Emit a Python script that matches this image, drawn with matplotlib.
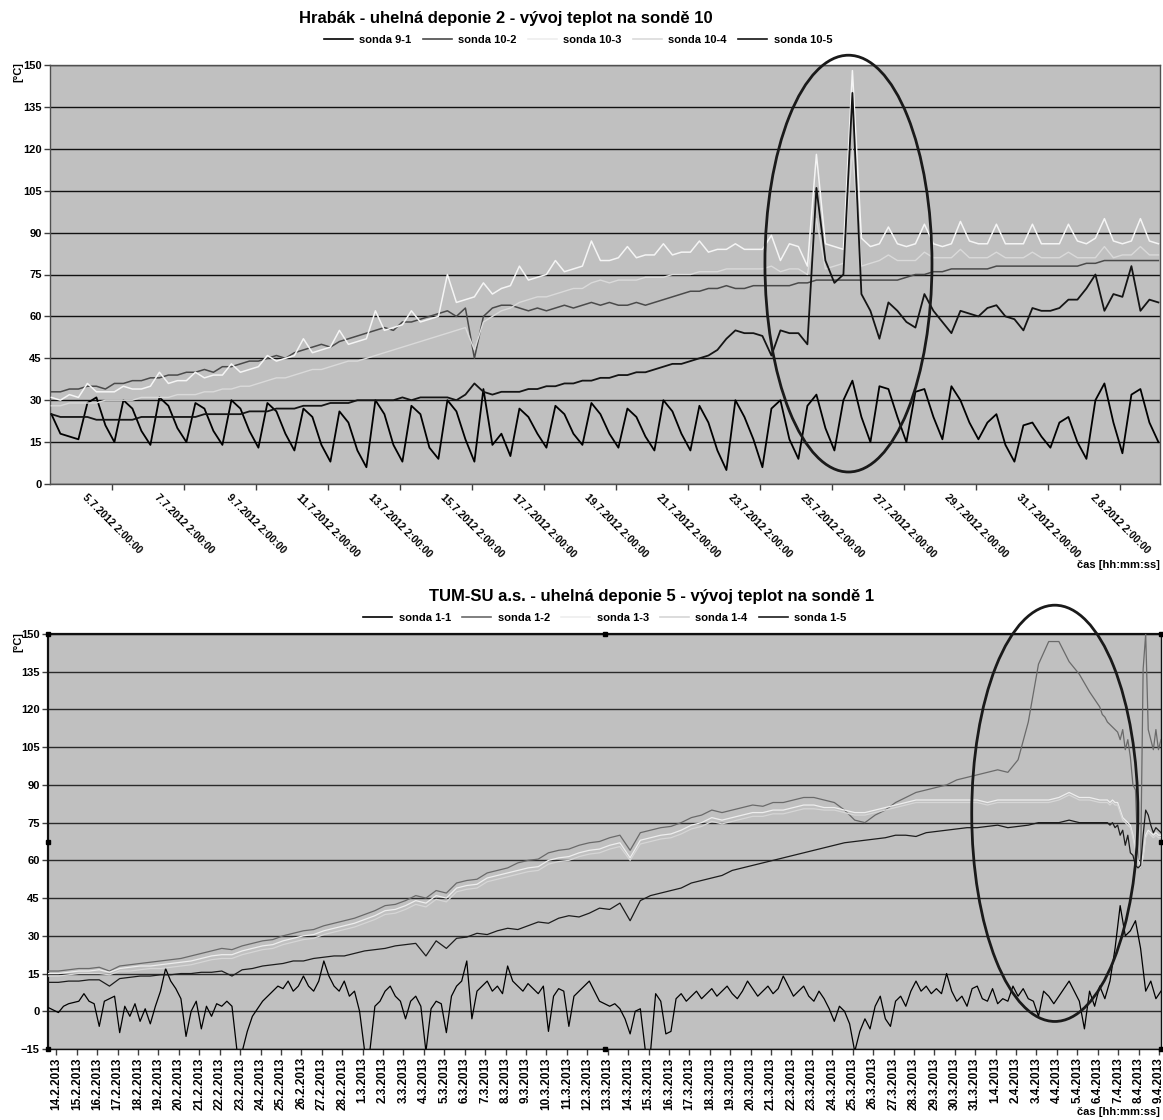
import numpy as np
import matplotlib
matplotlib.use("Agg")
import matplotlib.pyplot as plt
from matplotlib.patches import Ellipse
from matplotlib.lines import Line2D

plt.rcParams['font.family'] = ['Liberation Sans', 'DejaVu Sans']

# ---------------- data: top chart (Hrabak) ----------------
# time axis in days since 1.7.2012 00:00, 4 samples per day
top_t_start, top_t_end = 2.4, 33.15
top_ticklabels = ['5.7.2012 2:00:00', '7.7.2012 2:00:00', '9.7.2012 2:00:00', '11.7.2012 2:00:00',
                  '13.7.2012 2:00:00', '15.7.2012 2:00:00', '17.7.2012 2:00:00', '19.7.2012 2:00:00',
                  '21.7.2012 2:00:00', '23.7.2012 2:00:00', '25.7.2012 2:00:00', '27.7.2012 2:00:00',
                  '29.7.2012 2:00:00', '31.7.2012 2:00:00', '2.8.2012 2:00:00']
top_first_tick = 4.0833   # 5.7.2012 2:00
top_tick_step = 2.0

sonda_9_1 = [25,18,17,16, 29,31,21,15, 30,27,19,14, 31,28,20,15, 29,27,19,14, 30,27,19,13,
             29,26,18,12, 27,24,14,8, 26,22,12,6, 30,25,14,8, 28,25,13,9, 30,26,16,8,
             34,14,18,10, 27,24,18,13, 28,25,18,14, 29,25,18,13, 27,24,17,12, 30,26,18,12,
             28,22,12,5, 30,24,16,6, 27,30,16,9, 28,32,20,12, 30,37,24,15, 35,34,24,15,
             33,34,24,16, 35,30,22,16, 22,25,14,8, 21,22,17,13, 22,24,15,9, 30,36,22,11,
             32,34,22,15]
sonda_10_2 = [33,33,34,34, 35,35,34,36, 36,37,37,38, 38,39,39,40, 40,41,40,42, 42,43,44,44,
              45,46,45,47, 48,49,50,49, 51,52,53,54, 55,56,55,58, 58,59,60,61, 62,60,63,45,
              60,63,64,64, 63,62,63,62, 63,64,63,64, 65,64,65,64, 64,65,64,65, 66,67,68,69,
              69,70,70,71, 70,70,71,71, 71,71,71,72, 72,73,73,73, 73,73,73,73, 73,73,73,74,
              75,75,76,76, 77,77,77,77, 77,78,78,78, 78,78,78,78, 78,78,78,79, 79,80,80,80,
              80,80,80,80]
sonda_10_3 = [31,30,32,31, 36,33,33,33, 35,34,34,35, 40,36,37,37, 40,38,39,39, 43,40,41,42,
              46,44,45,46, 52,47,48,49, 55,50,51,52, 62,55,56,57, 62,58,59,60, 75,65,66,67,
              72,68,70,71, 78,73,74,75, 80,76,77,78, 87,80,80,81, 85,81,82,82, 86,82,83,83,
              87,83,84,84, 86,84,84,84, 89,80,86,85, 78,118,86,85, 84,148,88,85, 86,92,86,85,
              86,93,86,85, 86,94,87,86, 86,93,86,86, 86,93,86,86, 86,93,87,86, 88,95,87,86,
              87,95,87,86]
sonda_10_4 = [28,28,29,29, 29,29,30,30, 30,30,31,31, 31,31,32,32, 32,33,33,34, 34,35,35,36,
              37,38,38,39, 40,41,41,42, 43,44,44,45, 46,47,48,49, 50,51,52,53, 54,55,56,48,
              58,60,62,63, 65,66,67,67, 68,69,70,70, 72,73,72,73, 73,73,74,74, 74,75,75,75,
              76,76,76,77, 77,77,77,77, 78,76,77,77, 75,95,77,78, 79,120,78,79, 80,82,80,80,
              80,83,81,81, 81,84,81,81, 81,83,81,81, 81,83,81,81, 81,83,81,81, 81,85,81,82,
              82,85,82,82]
sonda_10_5 = [25,24,24,24, 24,23,23,23, 23,23,24,24, 24,24,24,24, 24,25,25,25, 25,25,26,26,
              26,27,27,27, 28,28,28,29, 29,29,30,30, 30,30,30,31, 30,31,31,31, 31,30,32,36,
              33,32,33,33, 33,34,34,35, 35,36,36,37, 37,38,38,39, 39,40,40,41, 42,43,43,44,
              45,46,48,52, 55,54,54,53, 46,55,54,54, 50,106,80,72, 75,140,68,62, 52,65,62,58,
              56,68,62,58, 54,62,61,60, 63,64,60,59, 55,63,62,62, 63,66,66,70, 75,62,68,67,
              78,62,66,65]

# ---------------- data: bottom chart (TUM-SU) ----------------
# time axis in days since 1.2.2013 00:00
bot_ticklabels = ['14.2.2013', '15.2.2013', '16.2.2013', '17.2.2013', '18.2.2013', '19.2.2013',
                  '20.2.2013', '21.2.2013', '22.2.2013', '23.2.2013', '24.2.2013', '25.2.2013',
                  '26.2.2013', '27.2.2013', '28.2.2013', '1.3.2013', '2.3.2013', '3.3.2013',
                  '4.3.2013', '5.3.2013', '6.3.2013', '7.3.2013', '8.3.2013', '9.3.2013',
                  '10.3.2013', '11.3.2013', '12.3.2013', '13.3.2013', '14.3.2013', '15.3.2013',
                  '16.3.2013', '17.3.2013', '18.3.2013', '19.3.2013', '20.3.2013', '21.3.2013',
                  '22.3.2013', '23.3.2013', '24.3.2013', '25.3.2013', '26.3.2013', '27.3.2013',
                  '28.3.2013', '29.3.2013', '30.3.2013', '31.3.2013', '1.4.2013', '2.4.2013',
                  '3.4.2013', '4.4.2013', '5.4.2013', '6.4.2013', '7.4.2013', '8.4.2013', '9.4.2013']
bot_first_tick = 13.0

# sonda 1-1: 4 samples per day from day 12.6 to 67.1
bot_fast_start, bot_fast_end = 12.6, 67.1
sonda_1_1 = [1.5,0.5,-0.5,2, 3,3.5,4,7, 4,3,-6,4, 5,6,-8.5,2, -2,3,-4,1, -5,2,8,17,
             12,9,5,-10, 0,4,-7,2, -2,3,2,4, 2,-16,-16,-8, -2,1,4,6, 8,10,9,12,
             8,10,14,10, 8,12,20,14, 10,8,12,6, 8,0,-16,-16, 2,4,8,10, 6,4,-3,4,
             6,2,-16,1, 4,3,-8.5,6, 10,12,20,-3, 8,10,12,8, 10,7,18,12, 10,8,11,9,
             7,10,-8,6, 9,8,-6,6, 8,10,12,8, 4,3,2,3, 1,-3,-9,0, 1,-16,-16,7,
             4,-9,-8,5, 7,4,6,8, 5,7,9,6, 8,10,7,5, 8,12,9,6, 8,10,7,9,
             14,10,6,8, 10,6,4,8, 5,1,-4,2, 0,-5,-16,-8, -3,-7,2,6, -3,-6,4,6,
             2,8,12,8, 10,7,9,7, 15,8,4,6, 2,9,10,5, 4,9,3,5, 4,10,6,9,
             5,4,-2,8, 6,3,6,9, 12,8,4,-7, 8,2,10,5, 12,25,42,30, 32,36,25,8,
             12,5,8]

# other probes: 2 samples per day from day 12.6 to 64.1, then 8 per day from 64.225 to 67.1
bot_main_start, bot_main_end = 12.6, 64.1
bot_tail_start, bot_tail_end = 64.225, 67.1
sonda_1_2 = [16,16,16.5,17,17,17.5,16,18,18.5,19,19.5,20,20.5,21,22,23,24,25,24.5,26,
             27,28,28.5,30,31,32,32.5,34,35,36,37,38.5,40,42,42.5,44,46,45,48,47,
             51,52,52.5,55,56,57,59,60,60.5,63,64,64.5,66,67,67.5,69,70,64,71,72,
             73,73.5,75,77,78,80,79,80,81,82,81.5,83,83,84,85,85,84,83,80,76,
             75,78,80,83,85,87,88,89,90,92,93,94,95,96,95,100,115,138,147,147,
             139,134,127,121]
sonda_1_2_tail = [118,117,115,114,113,112,111,108,112,104,108,101,90,88,60,57,136,150,112,108,
                  104,112,104,108]
sonda_1_3 = [15,15,15.5,16,16,16.5,15.5,17,17.5,18,18,18.5,19,19.5,20,21,22,22.5,22.5,24,
             25,26,26.5,28,29,30,30.5,32,33,34,35,36.5,38,40,40.5,42,44,43,46,45,
             49,50,50.5,53,54,55,56,57,57.5,60,61,61.5,63,64,64.5,66,67,61,68,69,
             70,70.5,72,74,75,77,76,77,78,79,79,80,80,81,82,82,81,81,80,79,
             79,80,81,82,83,84,84,84,84,84,84,84,83,84,84,84,84,84,84,85,
             87,85,85,84]
sonda_1_3_tail = [84,84,84,83,84,83,83,80,77,76,75,74,70,65,60,58,62,70,72,71,70,71,70,70]
sonda_1_4 = [14,14,14.5,15,15,15,14.5,16,16,16.5,17,17,17.5,18,18.5,19.5,20.5,21,21,22.5,
             23.5,24.5,25,26.5,27.5,28.5,29,30.5,31.5,32.5,33.5,35,36.5,38.5,39,40.5,42.5,41.5,44.5,43.5,
             47.5,48.5,49,51.5,52.5,53.5,54.5,55.5,56,58.5,59.5,60,61.5,62.5,63,64.5,65.5,60,66.5,67.5,
             68.5,69,70.5,72.5,73.5,75.5,74.5,75.5,76.5,77.5,77.5,78.5,78.5,79.5,80.5,80.5,80,80,79,78,
             78,79,80,81,82,83,83,83,83,83,83,83,82,83,83,83,83,83,83,84,
             86,84,84,83]
sonda_1_4_tail = [83,83,83,82,83,82,82,79,76,75,74,73,69,64,59,57,61,69,71,70,69,70,69,69]
sonda_1_5 = [11.5,11.5,12,12,12.5,12.5,10,13,13.5,14,14,14.5,14.5,15,15,15.5,15.5,16,14,16.5,
             17,18,18.5,19,20,20,21,21.5,22,22,23,24,24.5,25,26,26.5,27,22,28,25,
             29,29.5,31,30.5,32,33,32.5,34,35.5,35,37,38,37.5,39,41,40.5,43,36,44,46,
             47,48,49,51,52,53,54,56,57,58,59,60,61,62,63,64,65,66,67,67.5,
             68,68.5,69,70,70,69.5,71,71.5,72,72.5,73,73,73.5,74,73,73.5,74,75,75,75,
             76,75,75,75]
sonda_1_5_tail = [75,75,75,74,75,73,74,70,72,66,70,63,62,58,57,58,70,80,78,74,71,73,72,71]

# ---------------- figure ----------------
W, H = 1163, 1120
fig = plt.figure(figsize=(W / 100, H / 100), dpi=100)


def rect(l, t, r, b):
    return [l / W, 1 - b / H, (r - l) / W, (b - t) / H]


BG = '#c0c0c0'
TXT = dict(fontweight='bold', color='black')

# ======== TOP CHART ========
ax1 = fig.add_axes(rect(50, 65, 1160, 484))
ax1.set_facecolor(BG)
top_series = [
    ('sonda 9-1', sonda_9_1, '#000000', 1.3),
    ('sonda 10-2', sonda_10_2, '#4a4a4a', 1.1),
    ('sonda 10-3', sonda_10_3, '#f5f5f5', 1.1),
    ('sonda 10-4', sonda_10_4, '#dadada', 1.0),
    ('sonda 10-5', sonda_10_5, '#141414', 1.3),
]
for name, vals, col, lw in top_series:
    t = np.linspace(top_t_start, top_t_end, len(vals))
    ax1.plot(t, vals, color=col, lw=lw, zorder=3)

ax1.set_xlim(2.361, 33.194)
ax1.set_ylim(0, 150)
ax1.set_yticks(np.arange(0, 151, 15))
ax1.yaxis.grid(True, color='#111111', lw=1.0, zorder=1)
ax1.set_axisbelow(True)
tpos = top_first_tick + top_tick_step * np.arange(len(top_ticklabels))
ax1.set_xticks(tpos)
ax1.set_xticklabels(top_ticklabels, rotation=-45, ha='center', va='top', fontsize=7.5, fontweight='bold')
for lab in ax1.get_yticklabels():
    lab.set_fontweight('bold')
    lab.set_fontsize(8)
ax1.tick_params(axis='both', direction='out', length=4, width=1, color='#404040', pad=2)
for s in ax1.spines.values():
    s.set_color('#505050')
    s.set_linewidth(1.0)

ax1.add_patch(Ellipse((24.54, 78.9), 4.64, 149.2, fill=False, ec='#1a1a1a', lw=2.0,
                      clip_on=False, zorder=6))

fig.text(506 / W, 1 - 18 / H, 'Hrabák - uhelná deponie 2 - vývoj teplot na sondě 10',
         ha='center', va='center', fontsize=12, **TXT)
handles1 = [Line2D([], [], color=('#eeeeee' if c == '#f5f5f5' else c), lw=1.2) for _, _, c, _ in top_series]
fig.legend(handles1, [n for n, _, _, _ in top_series], loc='center', ncol=5,
           bbox_to_anchor=(578 / W, 1 - 40 / H), frameon=False, handlelength=2.6,
           columnspacing=1.0, handletextpad=0.6, prop=dict(weight='bold', size=8))
fig.text(18 / W, 1 - 72 / H, '[°C]', rotation=90, ha='center', va='center', fontsize=8, **TXT)
fig.text(1160 / W, 1 - 565 / H, 'čas [hh:mm:ss]', ha='right', va='center', fontsize=8, **TXT)

# ======== BOTTOM CHART ========
ax2 = fig.add_axes(rect(48, 634, 1161, 1049))
ax2.set_facecolor(BG)


def bot_time(main, tail):
    return np.concatenate([np.linspace(bot_main_start, bot_main_end, len(main)),
                           np.linspace(bot_tail_start, bot_tail_end, len(tail))])


bot_series = [
    ('sonda 1-1', np.linspace(bot_fast_start, bot_fast_end, len(sonda_1_1)), sonda_1_1, '#000000'),
    ('sonda 1-2', bot_time(sonda_1_2, sonda_1_2_tail), sonda_1_2 + sonda_1_2_tail, '#6a6a6a'),
    ('sonda 1-3', bot_time(sonda_1_3, sonda_1_3_tail), sonda_1_3 + sonda_1_3_tail, '#eeeeee'),
    ('sonda 1-4', bot_time(sonda_1_4, sonda_1_4_tail), sonda_1_4 + sonda_1_4_tail, '#d6d6d6'),
    ('sonda 1-5', bot_time(sonda_1_5, sonda_1_5_tail), sonda_1_5 + sonda_1_5_tail, '#1c1c1c'),
]
for name, t, vals, col in bot_series:
    ax2.plot(t, vals, color=col, lw=0.9, zorder=3)

ax2.set_xlim(12.59, 67.1)
ax2.set_ylim(-15, 150)
ax2.set_yticks(np.arange(-15, 151, 15))
ax2.yaxis.grid(True, color='#2a2a2a', lw=1.0, zorder=1)
ax2.set_axisbelow(True)
bpos = bot_first_tick + np.arange(len(bot_ticklabels))
ax2.set_xticks(bpos)
ax2.set_xticklabels(bot_ticklabels, rotation=90, ha='center', va='top', fontsize=8.5, fontweight='bold')
for lab in ax2.get_yticklabels():
    lab.set_fontweight('bold')
    lab.set_fontsize(8)
ax2.tick_params(axis='both', direction='out', length=4, width=1, color='#404040', pad=2)
for s in ax2.spines.values():
    s.set_color('#101010')
    s.set_linewidth(1.0)
ax2.spines['top'].set_linewidth(1.6)
ax2.spines['left'].set_linewidth(1.6)

ax2.add_patch(Ellipse((61.9, 78.7), 8.14, 165.5, fill=False, ec='#1a1a1a', lw=2.0,
                      clip_on=False, zorder=6))
# selection handles of the embedded chart
hx = [0, 0.5, 1, 0, 1, 0, 0.5, 1]
hy = [1, 1, 1, 0.5, 0.5, 0, 0, 0]
ax2.plot(hx, hy, 's', ms=3, color='black', transform=ax2.transAxes, clip_on=False, zorder=7)

fig.text(652 / W, 1 - 596 / H, 'TUM-SU a.s. - uhelná deponie 5 - vývoj teplot na sondě 1',
         ha='center', va='center', fontsize=12, **TXT)
handles2 = [Line2D([], [], color=c, lw=1.2) for _, _, _, c in bot_series]
fig.legend(handles2, [n for n, _, _, _ in bot_series], loc='center', ncol=5,
           bbox_to_anchor=(605 / W, 1 - 618 / H), frameon=False, handlelength=2.6,
           columnspacing=1.0, handletextpad=0.6, prop=dict(weight='bold', size=8))
fig.text(18 / W, 1 - 642 / H, '[°C]', rotation=90, ha='center', va='center', fontsize=8, **TXT)
fig.text(1160 / W, 1 - 1112 / H, 'čas [hh:mm:ss]', ha='right', va='center', fontsize=8, **TXT)

fig.savefig('out.png', dpi=100, facecolor='white')
